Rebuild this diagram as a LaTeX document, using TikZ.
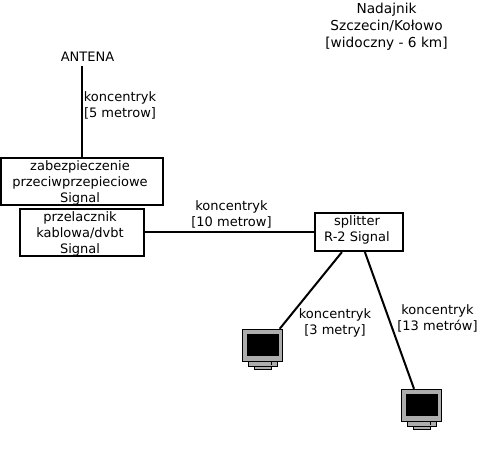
\documentclass[tikz,border=0pt]{standalone}
\usepackage{fontspec}
\setmainfont{DejaVu Sans}
\newcommand{\lbl}{\fontsize{13}{16}\selectfont}
\newcommand{\lblbig}{\fontsize{13.7}{17}\selectfont}
\newcommand{\offtext}[2]{\raisebox{#1}[0pt][0pt]{\begin{tabular}{@{}c@{}}#2\end{tabular}}\hspace*{4pt}}
\tikzset{
  box/.style={draw=black,line width=2.2pt,inner sep=0pt,font=\lbl},
  lbl/.style={inner sep=0pt,align=center,font=\lbl},
  wire/.style={draw=black,line width=2pt},
  mon/.style={inner sep=0pt,minimum width=40pt,minimum height=32pt},
  monitor/.pic={
    \draw[fill=black!32,line width=.9pt] (6,32) rectangle (35,37);
    \draw[fill=black!32,line width=.9pt] (12,37) rectangle (29,40);
    \fill[black] (28,33) rectangle (29,36);
    \draw[fill=black!32,line width=1pt] (0,0) rectangle (40,32);
    \fill[black] (4,5) rectangle (36,27);
  }
}
\begin{document}
\begin{tikzpicture}[x=1pt,y=-1pt]
\useasboundingbox (0,0) rectangle (478,449);
\fill[white] (0,0) rectangle (478,449);
\node[lbl,font=\lblbig] (nadajnik) at (386.5,26.5) {Nadajnik\\Szczecin/Kołowo\\{[widoczny - 6 km]}};
\node[lbl] (antena) at (87.5,57) {ANTENA};
\node[box,minimum width=162pt,minimum height=47pt] (zab) at (82,181.5) {\offtext{-5pt}{zabezpieczenie\\przeciwprzepieciowe\\Signal}};
\node[box,minimum width=124pt,minimum height=47pt] (prz) at (82,232.5) {\offtext{-5pt}{przelacznik\\kablowa/dvbt\\Signal}};
\node[box,minimum width=88pt,minimum height=38pt] (spl) at (359,232) {\offtext{-1.5pt}{splitter\\R-2 Signal}};
\node[mon] (m1) at (262.5,345) {};
\node[mon] (m2) at (421.5,405) {};
\pic at (242.5,329) {monitor};
\pic at (401.5,389) {monitor};
\draw[wire] (antena.south -| zab.north) ++(0,4) -- (zab.north);
\draw[wire] (prz.east |- spl.west) -- (spl.west);
\draw[wire] ([xshift=28pt]spl.south west) -- ([xshift=-3pt]m1.north east);
\draw[wire] ([xshift=51pt]spl.south west) -- ([xshift=-7.5pt]m2.north);
\node[lbl] (l1) at (120,105) {koncentryk\\{[5 metrow]}};
\node[lbl] (l2) at (231.5,214) {koncentryk\\{[10 metrow]}};
\node[lbl] (l3) at (335,322.5) {koncentryk\\{[3 metry]}};
\node[lbl] (l4) at (437.5,318) {koncentryk\\{[13 metrów]}};
\end{tikzpicture}
\end{document}
